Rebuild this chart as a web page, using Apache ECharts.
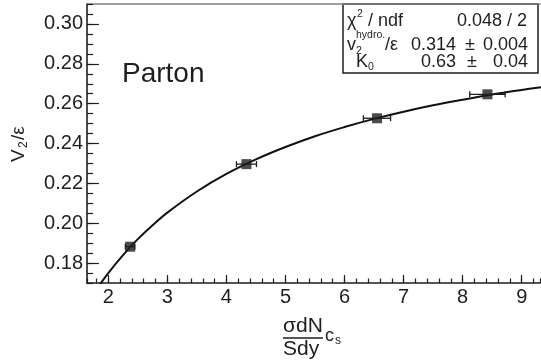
<!DOCTYPE html>
<html><head><meta charset="utf-8">
<script src="https://cdn.jsdelivr.net/npm/echarts@6/dist/echarts.min.js"></script>
<style>html,body{margin:0;padding:0;background:#fff}#c{width:541px;height:363px}</style>
</head><body><div id="c"></div>
<script>
// measured points
const pointX = [2.37, 4.34, 6.55, 8.42];
const pointY = [0.1883, 0.2297, 0.2527, 0.2647];
const pointXErr = [0.08, 0.17, 0.23, 0.30];
// fit curve
const fitX = [1.8, 2.0, 2.25, 2.5, 2.75, 3.0, 3.5, 4.0, 4.5, 5.0, 5.5, 6.0, 6.5, 7.0, 7.5, 8.0, 8.5, 9.0, 9.4];
const fitY = [0.1669, 0.1751, 0.1841, 0.1921, 0.1991, 0.2054, 0.2160, 0.2248, 0.2321, 0.2383, 0.2437, 0.2483, 0.2524, 0.2560, 0.2592, 0.2620, 0.2646, 0.2669, 0.2686];
// tick labels
const xTickLabels = ['2','3','4','5','6','7','8','9'];
const yTickLabels = ['0.18','0.20','0.22','0.24','0.26','0.28','0.30'];
// stats box
const statChi = '0.048 / 2';
const statValues = ['0.314', '0.63'];
const statErrors = ['0.004', '0.04'];
const panelLabel = 'Parton';

const FONT = "'Liberation Sans', Arial, Helvetica, sans-serif";
const INK = '#1e1e1e';

const chart = echarts.init(document.getElementById('c'), null, {renderer: 'canvas'});

function fmtX(v) {
  const s = String(Math.round(v));
  return (Math.abs(v - Math.round(v)) < 1e-6 && xTickLabels.includes(s)) ? s : '';
}
function fmtY(v) {
  const s = v.toFixed(2);
  return (Math.abs(v * 100 - Math.round(v * 100)) < 1e-6 && yTickLabels.includes(s)) ? s : '';
}

const XMIN = 1.64, XMAX = 9.31, YMIN = 0.1701, YMAX = 0.3100;
const BX = 343;      // stats box left
const LX = BX + 4;   // stats labels left
const SF = '18px ' + FONT, SS = '10.5px ' + FONT;

const hiddenLabel = {show: false};
const option = {
  backgroundColor: '#fff',
  animation: false,
  grid: {left: 87, right: 1, top: 4, bottom: 80, containLabel: false, outerBoundsMode: 'none'},
  xAxis: [
    {
      type: 'value', min: XMIN, max: XMAX, splitNumber: 8, position: 'bottom',
      axisLine: {show: true, onZero: false, lineStyle: {color: INK, width: 1.6}},
      axisTick: {show: true, inside: true, length: 8, lineStyle: {color: INK, width: 1.2}},
      axisLabel: {show: true, formatter: fmtX, fontSize: 20, fontFamily: FONT, color: INK, margin: 4,
                  showMinLabel: false, showMaxLabel: false},
      splitLine: {show: false}
    },
    {
      type: 'value', min: XMIN, max: XMAX, splitNumber: 38, position: 'bottom',
      axisLine: {show: false, onZero: false},
      axisTick: {show: true, inside: true, length: 4.5, lineStyle: {color: INK, width: 1.2}},
      axisLabel: hiddenLabel, splitLine: {show: false}
    },
    {
      type: 'value', min: XMIN, max: XMAX, position: 'top',
      axisLine: {show: true, onZero: false, lineStyle: {color: '#808080', width: 1.5}},
      axisTick: {show: false}, axisLabel: hiddenLabel, splitLine: {show: false}
    }
  ],
  yAxis: [
    {
      type: 'value', min: YMIN, max: YMAX, splitNumber: 7, position: 'left',
      axisLine: {show: true, onZero: false, lineStyle: {color: INK, width: 1.6}},
      axisTick: {show: true, inside: true, length: 12, lineStyle: {color: INK, width: 1.2}},
      axisLabel: {show: true, formatter: fmtY, fontSize: 20, fontFamily: FONT, color: INK, margin: 4,
                  showMinLabel: false, showMaxLabel: false},
      splitLine: {show: false}
    },
    {
      type: 'value', min: YMIN, max: YMAX, splitNumber: 28, position: 'left',
      axisLine: {show: false, onZero: false},
      axisTick: {show: true, inside: true, length: 6, lineStyle: {color: INK, width: 1.2}},
      axisLabel: hiddenLabel, splitLine: {show: false}
    }
  ],
  series: [
    {
      type: 'line', xAxisIndex: 0, yAxisIndex: 0,
      data: fitX.map((x, i) => [x, fitY[i]]),
      smooth: 0.4, symbol: 'none', clip: true, z: 2,
      lineStyle: {color: '#111', width: 2}
    },
    {
      type: 'custom', xAxisIndex: 0, yAxisIndex: 0, z: 3, clip: true,
      data: pointX.map((x, i) => [x, pointY[i], pointXErr[i]]),
      encode: {x: 0, y: 1},
      renderItem: function (params, api) {
        const x = api.value(0), y = api.value(1), e = api.value(2);
        const a = api.coord([x - e, y]), b = api.coord([x + e, y]);
        const h = 3;
        const st = {stroke: INK, lineWidth: 1.3};
        return {type: 'group', children: [
          {type: 'line', shape: {x1: a[0], y1: a[1], x2: b[0], y2: b[1]}, style: st},
          {type: 'line', shape: {x1: a[0], y1: a[1] - h, x2: a[0], y2: a[1] + h}, style: st},
          {type: 'line', shape: {x1: b[0], y1: b[1] - h, x2: b[0], y2: b[1] + h}, style: st}
        ]};
      }
    },
    {
      type: 'scatter', xAxisIndex: 0, yAxisIndex: 0, z: 4,
      data: pointX.map((x, i) => [x, pointY[i]]),
      symbol: 'rect', symbolSize: 10,
      itemStyle: {color: INK}
    }
  ],
  graphic: [
    // panel label
    {type: 'text', left: 122, top: 60, z: 10,
     style: {text: panelLabel, font: '28px ' + FONT, fill: INK}},
    // y-axis title (rotated)
    {type: 'group', x: 19, y: 162, rotation: Math.PI / 2, z: 10, children: [
      {type: 'text', x: 0, y: 0, style: {text: 'V', font: '19px ' + FONT, fill: INK, align: 'left', verticalAlign: 'middle'}},
      {type: 'text', x: 14, y: 5, style: {text: '2', font: '12px ' + FONT, fill: INK, align: 'left', verticalAlign: 'middle'}},
      {type: 'text', x: 22, y: 0, style: {text: '/ε', font: '19px ' + FONT, fill: INK, align: 'left', verticalAlign: 'middle'}}
    ]},
    // x-axis title (fraction)
    {type: 'group', x: 283, y: 0, z: 10, children: [
      {type: 'text', x: 0, y: 326, style: {text: 'σdN', font: '21px ' + FONT, fill: INK, align: 'left', verticalAlign: 'middle'}},
      {type: 'line', shape: {x1: 0, y1: 338, x2: 40, y2: 338}, style: {stroke: INK, lineWidth: 1.4}},
      {type: 'text', x: 0, y: 349, style: {text: 'Sdy', font: '21px ' + FONT, fill: INK, align: 'left', verticalAlign: 'middle'}},
      {type: 'text', x: 42, y: 336, style: {text: 'c', font: '18px ' + FONT, fill: INK, align: 'left', verticalAlign: 'middle'}},
      {type: 'text', x: 52, y: 341, style: {text: 's', font: '12px ' + FONT, fill: INK, align: 'left', verticalAlign: 'middle'}}
    ]},
    // stats box
    {type: 'group', x: 0, y: 0, z: 20, children: [
      {type: 'rect', shape: {x: BX, y: 4, width: 538 - BX, height: 69}, style: {fill: '#fff', stroke: INK, lineWidth: 1.5}},
      {type: 'text', x: LX, y: 21, style: {text: 'χ', font: SF, fill: INK, verticalAlign: 'middle'}},
      {type: 'text', x: LX + 10, y: 14, style: {text: '2', font: SS, fill: INK, verticalAlign: 'middle'}},
      {type: 'text', x: LX + 21, y: 21, style: {text: '/ ndf', font: SF, fill: INK, verticalAlign: 'middle'}},
      {type: 'text', x: 527, y: 21, style: {text: statChi, font: SF, fill: INK, align: 'right', verticalAlign: 'middle'}},
      {type: 'text', x: LX, y: 45, style: {text: 'v', font: SF, fill: INK, verticalAlign: 'middle'}},
      {type: 'text', x: LX + 9, y: 51, style: {text: '2', font: SS, fill: INK, verticalAlign: 'middle'}},
      {type: 'text', x: LX + 9, y: 35, style: {text: 'hydro.', font: SS, fill: INK, verticalAlign: 'middle'}},
      {type: 'text', x: LX + 38, y: 45, style: {text: '/ε', font: SF, fill: INK, verticalAlign: 'middle'}},
      {type: 'text', x: 456, y: 45.5, style: {text: statValues[0], font: SF, fill: INK, align: 'right', verticalAlign: 'middle'}},
      {type: 'text', x: 470, y: 45.5, style: {text: '±', font: SF, fill: INK, align: 'center', verticalAlign: 'middle'}},
      {type: 'text', x: 528, y: 45.5, style: {text: statErrors[0], font: SF, fill: INK, align: 'right', verticalAlign: 'middle'}},
      {type: 'text', x: LX + 9, y: 62, style: {text: 'K', font: SF, fill: INK, verticalAlign: 'middle'}},
      {type: 'text', x: LX + 21, y: 67, style: {text: '0', font: SS, fill: INK, verticalAlign: 'middle'}},
      {type: 'text', x: 456, y: 62, style: {text: statValues[1], font: SF, fill: INK, align: 'right', verticalAlign: 'middle'}},
      {type: 'text', x: 472, y: 62, style: {text: '±', font: SF, fill: INK, align: 'center', verticalAlign: 'middle'}},
      {type: 'text', x: 528, y: 62, style: {text: statErrors[1], font: SF, fill: INK, align: 'right', verticalAlign: 'middle'}}
    ]}
  ]
};
chart.setOption(option);
</script>
</body></html>
